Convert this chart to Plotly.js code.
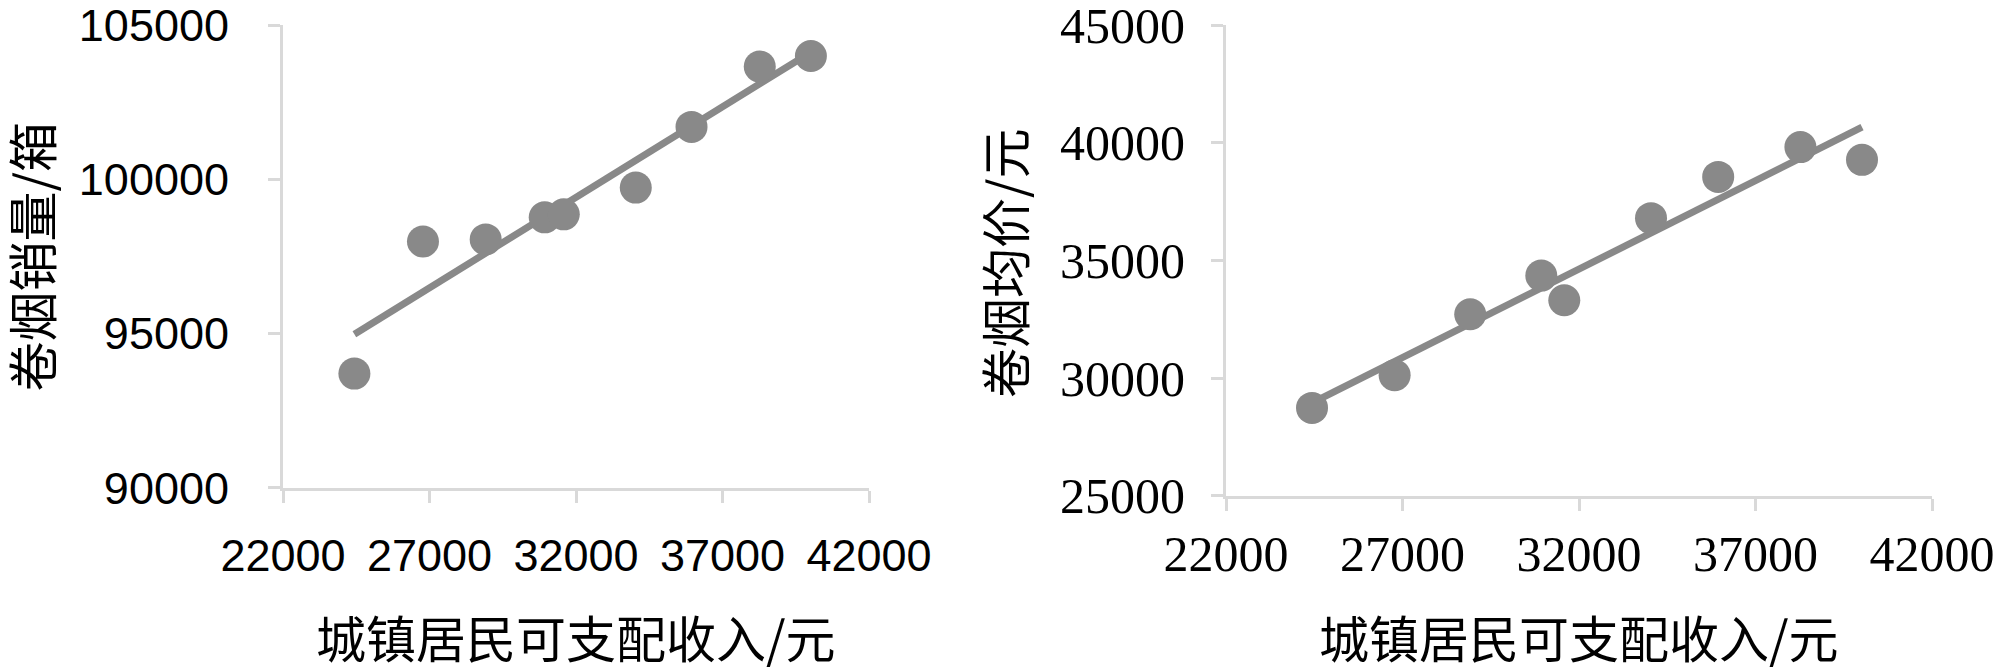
<!DOCTYPE html>
<html>
<head>
<meta charset="utf-8">
<script src="https://cdn.plot.ly/plotly-3.0.1.min.js"></script>
<style>
  html, body { margin: 0; padding: 0; background: #ffffff; }
  #graph { width: 2000px; height: 667px; }
</style>
</head>
<body>
<div id="graph"></div>
<script>
// income of urban residents (shared x values of both charts)
var income = [24437, 26777, 28918, 30932, 31583, 34040, 35943, 38272, 40017];
// left chart: cigarette sales volume (boxes)
var sales = [93707, 97985, 98054, 98769, 98865, 99732, 101699, 103652, 103996];
// right chart: average cigarette price (yuan)
var price = [28740, 30130, 32715, 34359, 33311, 36798, 38550, 39815, 39273];
// trend lines, ends
var trendX = [24437, 40017];
var salesTrend = [94980, 104120];
var priceTrend = [28950, 40660];

var xTitle = '城镇居民可支配收入/元';
var salesTitle = '卷烟销量/箱';
var priceTitle = '卷烟均价/元';

var gray = '#898989';   /*marker and trend line colour*/
var axisGray = '#d9d9d9'; /*axis line colour*/
var cjk = '"Noto Sans CJK SC", sans-serif';

function drawGraph() {
    var data = [
        {x: trendX, y: salesTrend, xaxis: 'x', yaxis: 'y', type: 'scatter', mode: 'lines',
         line: {color: gray, width: 7}, hoverinfo: 'skip'},
        {x: income, y: sales, xaxis: 'x', yaxis: 'y', type: 'scatter', mode: 'markers',
         marker: {color: gray, size: 32}},
        {x: trendX, y: priceTrend, xaxis: 'x2', yaxis: 'y2', type: 'scatter', mode: 'lines',
         line: {color: gray, width: 7}, hoverinfo: 'skip'},
        {x: income, y: price, xaxis: 'x2', yaxis: 'y2', type: 'scatter', mode: 'markers',
         marker: {color: gray, size: 32}}
    ];

    var common = {
        showgrid: false,
        zeroline: false,
        showline: true,
        linecolor: axisGray,
        linewidth: 3,
        ticks: 'outside',
        ticklen: 12,
        tickwidth: 3,
        tickcolor: axisGray,
        tickmode: 'linear',
        dtick: 5000,
        tickformat: 'd',
        ticklabeloverflow: 'allow',
        fixedrange: true
    };
    var sansTick = {family: '"Liberation Sans", Arial, sans-serif', size: 45, color: '#000000'};
    var serifTick = {family: '"Liberation Serif", "Times New Roman", serif', size: 50, color: '#000000'};

    var layout = {
        width: 2000,
        height: 667,
        showlegend: false,
        paper_bgcolor: '#ffffff',
        plot_bgcolor: '#ffffff',
        separators: '.',
        margin: {l: 0, r: 0, t: 0, b: 0, pad: 0, autoexpand: false},
        xaxis: Object.assign({}, common, {
            domain: [0.1415, 0.4345], anchor: 'y', range: [22000, 42000],
            tick0: 22000, tickfont: sansTick, ticklabelstandoff: 14
        }),
        yaxis: Object.assign({}, common, {
            domain: [0.2684, 0.9625], anchor: 'x', range: [90000, 105000],
            tick0: 90000, tickfont: sansTick, ticklabelstandoff: 30
        }),
        xaxis2: Object.assign({}, common, {
            domain: [0.613, 0.966], anchor: 'y2', range: [22000, 42000],
            tick0: 22000, tickfont: serifTick, ticklabelstandoff: 0
        }),
        yaxis2: Object.assign({}, common, {
            domain: [0.2564, 0.9625], anchor: 'x2', range: [25000, 45000],
            tick0: 25000, tickfont: serifTick, ticklabelstandoff: 16
        }),
        annotations: [
            {text: xTitle, xref: 'x domain', x: 0.5, yref: 'paper', y: 1 - 636 / 667,
             showarrow: false, xanchor: 'center', yanchor: 'middle',
             font: {family: cjk, size: 50, color: '#000000'}},
            {text: salesTitle, xref: 'paper', x: 30 / 2000, yref: 'y domain', y: 0.5,
             showarrow: false, textangle: -90, xanchor: 'center', yanchor: 'middle',
             font: {family: cjk, size: 50, color: '#000000'}},
            {text: xTitle, xref: 'x2 domain', x: 0.5, yref: 'paper', y: 1 - 636 / 667,
             showarrow: false, xanchor: 'center', yanchor: 'middle',
             font: {family: cjk, size: 50, color: '#000000'}},
            {text: priceTitle, xref: 'paper', x: 1003 / 2000, yref: 'paper', y: 1 - 263 / 667,
             showarrow: false, textangle: -90, xanchor: 'center', yanchor: 'middle',
             font: {family: cjk, size: 50, color: '#000000'}}
        ]
    };

    Plotly.newPlot('graph', data, layout, {displayModeBar: false, staticPlot: true});
}
drawGraph();
</script>
</body>
</html>
